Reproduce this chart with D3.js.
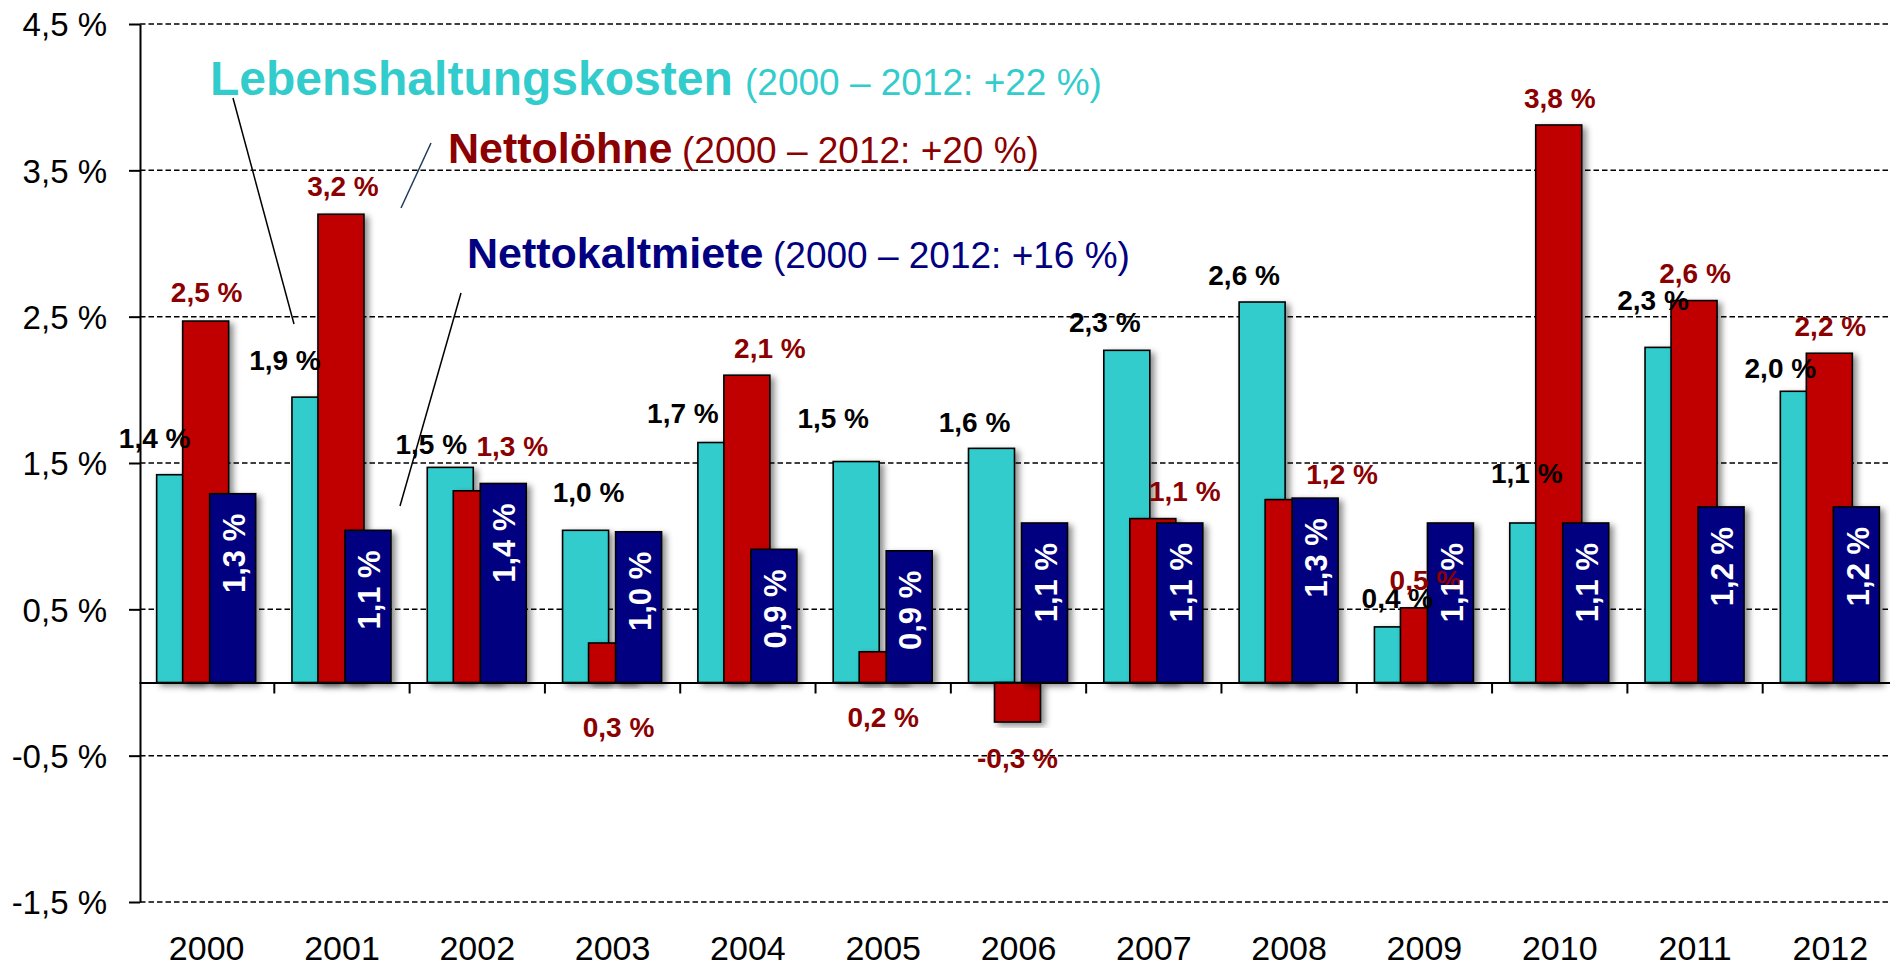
<!DOCTYPE html>
<html>
<head>
<meta charset="utf-8">
<script src="https://cdn.jsdelivr.net/npm/d3@7/dist/d3.min.js"></script>
<style>
  html, body { margin: 0; padding: 0; background: #fff; }
  svg { display: block; font-family: "Liberation Sans", Arial, sans-serif; }
</style>
</head>
<body>
<svg id="chart" width="1890" height="967"></svg>
<script>
// ---------- DATA ----------
const years = ["2000","2001","2002","2003","2004","2005","2006","2007","2008","2009","2010","2011","2012"];
const lebenshaltung = [1.42, 1.95, 1.47, 1.04, 1.64, 1.51, 1.60, 2.27, 2.60, 0.38, 1.09, 2.29, 1.99];
const nettoloehne   = [2.47, 3.20, 1.31, 0.27, 2.10, 0.21, -0.27, 1.12, 1.25, 0.51, 3.81, 2.61, 2.25];
const nettokaltmiete = [1.29, 1.04, 1.36, 1.03, 0.91, 0.90, 1.09, 1.09, 1.26, 1.09, 1.09, 1.20, 1.20];
const lebenshaltungLabels = ["1,4 %","1,9 %","1,5 %","1,0 %","1,7 %","1,5 %","1,6 %","2,3 %","2,6 %","0,4 %","1,1 %","2,3 %","2,0 %"];
const nettoloehneLabels   = ["2,5 %","3,2 %","1,3 %","0,3 %","2,1 %","0,2 %","-0,3 %","1,1 %","1,2 %","0,5 %","3,8 %","2,6 %","2,2 %"];
const nettokaltmieteLabels = ["1,3 %","1,1 %","1,4 %","1,0 %","0,9 %","0,9 %","1,1 %","1,1 %","1,3 %","1,1 %","1,1 %","1,2 %","1,2 %"];
const yTicks = [-1.5, -0.5, 0.5, 1.5, 2.5, 3.5, 4.5];
const seriesNames = ["Lebenshaltungskosten", "Nettolöhne", "Nettokaltmiete"];
const seriesTotals = ["(2000 – 2012: +22 %)", "(2000 – 2012: +20 %)", "(2000 – 2012: +16 %)"];

// ---------- LAYOUT (label nudges, px) ----------
const cyanNudgeX = [-52, -57, -46, -24, -65, -50, -44, -49, -45, -27, -33, -42, -50];
const cyanNudgeY = [-37, -37, -23, -38, -30, -44, -26, -28, -27, -29, -50, -47, -23];
const redNudgeX  = [0, 1, 35, 6, 22, 0, -1, 31, 53, 1, 0, 0, 0];
const redNudgeY  = [-29, -28, -45, 84, -27, 65, 36, -28, -26, -28, -27, -28, -27];

const colors = { cyan: "#33CCCC", red: "#C00000", navy: "#000080", darkred: "#8B0000" };

const svg = d3.select("#chart");
svg.append("rect").attr("width", 1890).attr("height", 967).attr("fill", "#fff");

const defs = svg.append("defs");
const f = defs.append("filter").attr("id", "shadow")
  .attr("x", "-30%").attr("y", "-10%").attr("width", "170%").attr("height", "125%");
f.append("feDropShadow").attr("dx", 4).attr("dy", 3).attr("stdDeviation", 3)
  .attr("flood-color", "#000").attr("flood-opacity", 0.45);

const y = d3.scaleLinear().domain([-1.5, 4.5]).range([902, 24]);
const x = d3.scaleBand().domain(years).range([139, 1898]).padding(0);
const axisX = 140;
const center = d => x(d) + x.bandwidth() / 2;
const fmt = v => v.toFixed(1).replace(".", ",") + " %";

// gridlines
svg.append("g").selectAll("line").data(yTicks).join("line")
  .attr("x1", axisX).attr("x2", 1890)
  .attr("y1", d => y(d)).attr("y2", d => y(d))
  .attr("stroke", "#000").attr("stroke-width", 1.5).attr("stroke-dasharray", "5.5,3");

// y axis
const yAxis = svg.append("g").attr("transform", `translate(${axisX},0)`)
  .call(d3.axisLeft(y).tickValues(yTicks).tickFormat(fmt).tickSize(11).tickSizeOuter(0).tickPadding(22));
yAxis.select(".domain").attr("stroke", "#000").attr("stroke-width", 2);
yAxis.selectAll(".tick line").attr("stroke", "#000").attr("stroke-width", 2);
yAxis.selectAll(".tick text").attr("font-size", 33).attr("fill", "#000")
  .attr("font-family", "'Liberation Sans', Arial, sans-serif").attr("dy", "0.36em");

// bars
const bw = 46;
const offs = [-50, -24, 3];
const series = [
  { vals: lebenshaltung, color: colors.cyan },
  { vals: nettoloehne, color: colors.red },
  { vals: nettokaltmiete, color: colors.navy }
];
series.forEach((s, si) => {
  svg.append("g").selectAll("rect").data(years).join("rect")
    .attr("x", (d) => center(d) + offs[si])
    .attr("width", bw)
    .attr("y", (d, i) => y(Math.max(0, s.vals[i])))
    .attr("height", (d, i) => Math.abs(y(s.vals[i]) - y(0)))
    .attr("fill", s.color)
    .attr("stroke", "#000").attr("stroke-width", 1.6)
    .attr("filter", "url(#shadow)");
});

// x axis
const xAxis = svg.append("g").attr("transform", `translate(0,${y(0)})`)
  .call(d3.axisBottom(x).tickSize(0).tickSizeOuter(0).tickPadding(253));
xAxis.select(".domain").attr("stroke", "#000").attr("stroke-width", 2.2);
xAxis.selectAll(".tick text").attr("font-size", 34).attr("fill", "#000")
  .attr("font-family", "'Liberation Sans', Arial, sans-serif");
// boundary ticks
svg.append("g").selectAll("line").data(years.slice(1)).join("line")
  .attr("x1", d => x(d)).attr("x2", d => x(d))
  .attr("y1", y(0)).attr("y2", y(0) + 11)
  .attr("stroke", "#000").attr("stroke-width", 2);

// value labels - cyan series (black)
svg.append("g").selectAll("text").data(years).join("text")
  .attr("x", (d, i) => center(d) + cyanNudgeX[i])
  .attr("y", (d, i) => y(lebenshaltung[i]) + cyanNudgeY[i] + 10)
  .attr("text-anchor", "middle").attr("font-weight", "bold").attr("font-size", 28)
  .attr("fill", "#000").text((d, i) => lebenshaltungLabels[i]);

// value labels - red series
svg.append("g").selectAll("text").data(years).join("text")
  .attr("x", (d, i) => center(d) + redNudgeX[i])
  .attr("y", (d, i) => y(nettoloehne[i]) + redNudgeY[i] + 10)
  .attr("text-anchor", "middle").attr("font-weight", "bold").attr("font-size", 28)
  .attr("fill", colors.darkred).text((d, i) => nettoloehneLabels[i]);

// value labels - navy series (rotated, white)
svg.append("g").selectAll("text").data(years).join("text")
  .attr("transform", (d, i) => `translate(${center(d) + 27},${y(nettokaltmiete[i]) + 20}) rotate(-90)`)
  .attr("dy", "0.36em")
  .attr("text-anchor", "end").attr("font-weight", "bold").attr("font-size", 31)
  .attr("fill", "#fff").text((d, i) => nettokaltmieteLabels[i]);

// legend texts
const legend = [
  { name: seriesNames[0], total: seriesTotals[0], color: colors.cyan, nx: 210, tx: 745, by: 95, ns: 48 },
  { name: seriesNames[1], total: seriesTotals[1], color: colors.darkred, nx: 448, tx: 682, by: 163, ns: 43 },
  { name: seriesNames[2], total: seriesTotals[2], color: colors.navy, nx: 467, tx: 773, by: 268, ns: 43 }
];
const lg = svg.append("g");
legend.forEach(l => {
  lg.append("text").attr("x", l.nx).attr("y", l.by).attr("font-size", l.ns)
    .attr("font-weight", "bold").attr("fill", l.color).text(l.name);
  lg.append("text").attr("x", l.tx).attr("y", l.by).attr("font-size", 37)
    .attr("fill", l.color).text(l.total);
});

// leader lines
const leaders = [
  { p: [[233, 98], [294, 324]], c: "#000" },
  { p: [[431, 143], [401, 208]], c: "#1F3A5F" },
  { p: [[461, 293], [400, 506]], c: "#000" }
];
leaders.forEach(l => {
  svg.append("line").attr("x1", l.p[0][0]).attr("y1", l.p[0][1])
    .attr("x2", l.p[1][0]).attr("y2", l.p[1][1])
    .attr("stroke", l.c).attr("stroke-width", 1.5);
});
</script>
</body>
</html>
